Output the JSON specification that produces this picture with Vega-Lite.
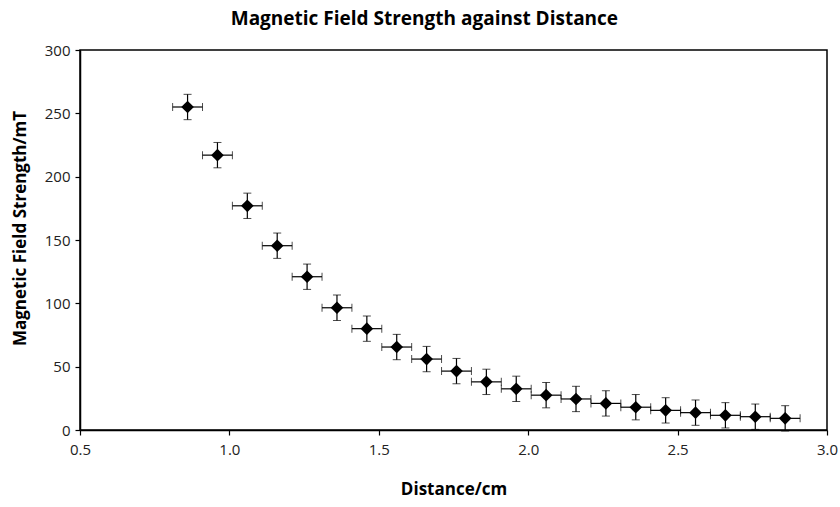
{
  "$schema": "https://vega.github.io/schema/vega-lite/v6.json",
  "autosize": "none",
  "width": 747,
  "height": 380,
  "padding": {"left": 80, "top": 50, "right": 13, "bottom": 77},
  "background": "white",
  "title": {
    "text": "Magnetic Field Strength against Distance",
    "font": "Open Sans",
    "fontSize": 19,
    "fontWeight": "bold",
    "color": "black",
    "offset": 14,
    "anchor": "middle",
    "frame": "bounds"
  },
  "config": {
    "view": {"stroke": "black", "strokeWidth": 1.5},
    "axis": {
      "grid": false,
      "domainColor": "black",
      "domainWidth": 1.5,
      "tickColor": "black",
      "tickWidth": 1.2,
      "tickSize": 5,
      "labelFont": "Open Sans",
      "labelColor": "#222",
      "labelFlush": false,
      "titleFont": "Open Sans",
      "titleFontWeight": "bold",
      "titleColor": "black"
    }
  },
  "data": {
    "values": [
      {"x": 0.86, "y": 255, "ex": 0.05, "ey": 10},
      {"x": 0.96, "y": 217, "ex": 0.05, "ey": 10},
      {"x": 1.06, "y": 177, "ex": 0.05, "ey": 10},
      {"x": 1.16, "y": 145.5, "ex": 0.05, "ey": 10},
      {"x": 1.26, "y": 121, "ex": 0.05, "ey": 10},
      {"x": 1.36, "y": 96.5, "ex": 0.05, "ey": 10},
      {"x": 1.46, "y": 80, "ex": 0.05, "ey": 10},
      {"x": 1.56, "y": 65.5, "ex": 0.05, "ey": 10},
      {"x": 1.66, "y": 56, "ex": 0.05, "ey": 10},
      {"x": 1.76, "y": 46.5, "ex": 0.05, "ey": 10},
      {"x": 1.86, "y": 38, "ex": 0.05, "ey": 10},
      {"x": 1.96, "y": 32.5, "ex": 0.05, "ey": 10},
      {"x": 2.06, "y": 27.5, "ex": 0.05, "ey": 10},
      {"x": 2.16, "y": 24.5, "ex": 0.05, "ey": 10},
      {"x": 2.26, "y": 21, "ex": 0.05, "ey": 10},
      {"x": 2.36, "y": 18, "ex": 0.05, "ey": 10},
      {"x": 2.46, "y": 15.5, "ex": 0.05, "ey": 10},
      {"x": 2.56, "y": 13.7, "ex": 0.05, "ey": 10},
      {"x": 2.66, "y": 11.6, "ex": 0.05, "ey": 10},
      {"x": 2.76, "y": 10.5, "ex": 0.05, "ey": 10},
      {"x": 2.86, "y": 9.2, "ex": 0.05, "ey": 10}
    ]
  },
  "encoding": {
    "x": {"field": "x", "type": "quantitative", "title": "Distance/cm",
      "scale": {"domain": [0.5, 3.0], "nice": false, "zero": false, "padding": 0},
      "axis": {"title": "Distance/cm", "values": [0.5, 1.0, 1.5, 2.0, 2.5, 3.0], "format": ".1f", "titlePadding": 24,
        "labelFontSize": 15, "labelPadding": 7, "titleFontSize": 17, "labelFlush": false}},
    "y": {"field": "y", "type": "quantitative", "title": "Magnetic Field Strength/mT",
      "scale": {"domain": [0, 300], "nice": false, "padding": 0},
      "axis": {"title": "Magnetic Field Strength/mT", "values": [0, 50, 100, 150, 200, 250, 300], "titlePadding": 15,
        "labelFontSize": 15, "labelPadding": 5, "titleFontSize": 17, "titleY": 178, "labelFlush": false}}
  },
  "layer": [
    {
      "mark": {"type": "errorbar", "ticks": {"size": 8, "color": "black"}, "rule": {"color": "black", "strokeWidth": 1.2}},
      "encoding": {
        "yError": {"field": "ey"}
      }
    },
    {
      "mark": {"type": "errorbar", "ticks": {"size": 8, "color": "black"}, "rule": {"color": "black", "strokeWidth": 1.2}},
      "encoding": {
        "xError": {"field": "ex"}
      }
    },
    {
      "mark": {"type": "point", "shape": "diamond", "filled": true, "color": "black", "opacity": 1, "size": 160},
      "encoding": {}
    }
  ]
}
